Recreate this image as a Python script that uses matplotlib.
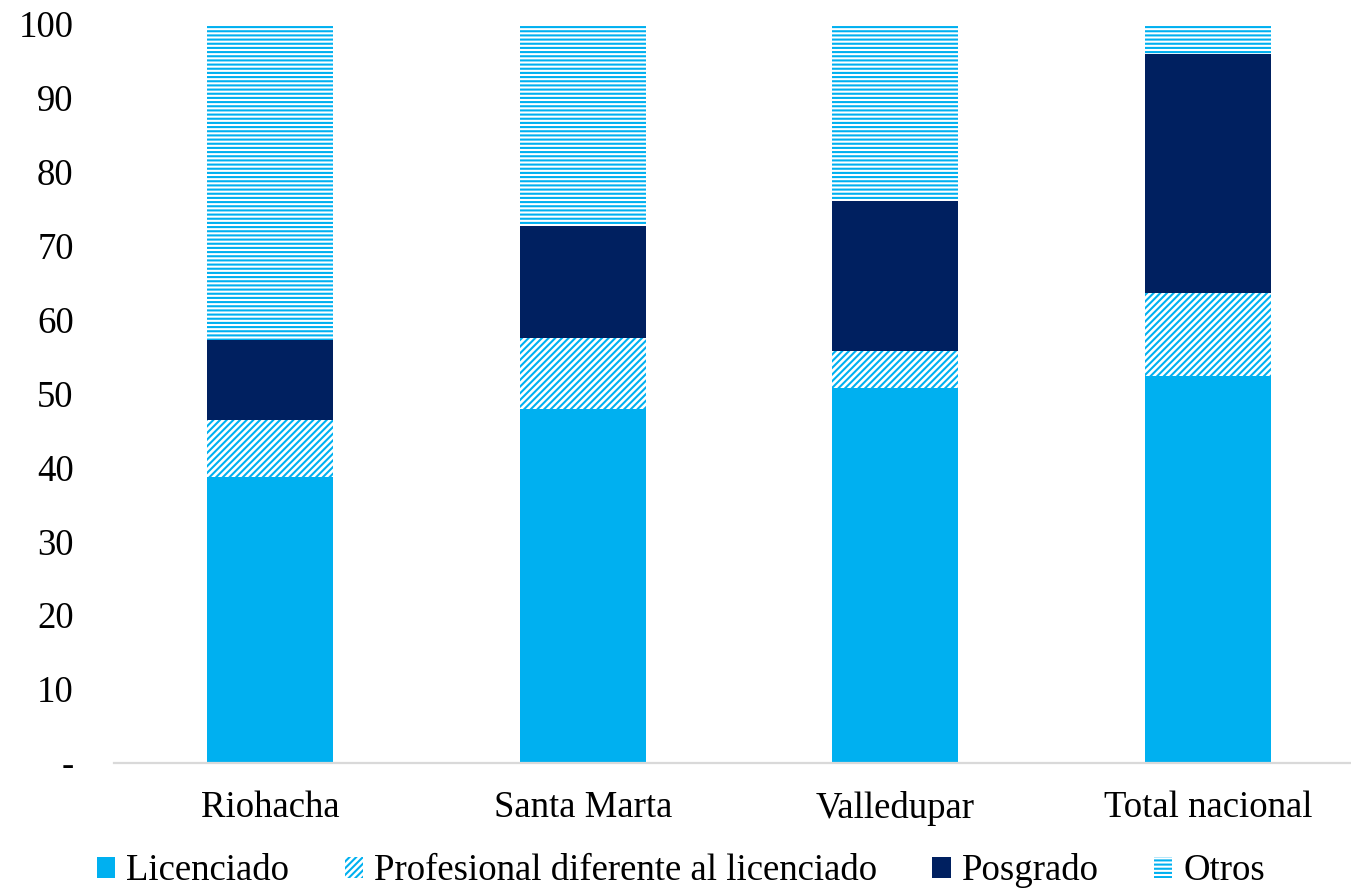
import matplotlib
matplotlib.use("Agg")
import matplotlib.pyplot as plt
import numpy as np

categories = ["Riohacha", "Santa Marta", "Valledupar", "Total nacional"]
licenciado = [38.7, 47.9, 50.7, 52.4]
profesional = [7.7, 9.6, 5.1, 11.2]
posgrado = [10.8, 15.2, 20.2, 32.3]
otros = [42.8, 27.3, 24.0, 4.1]
yticks = [0, 10, 20, 30, 40, 50, 60, 70, 80, 90, 100]
yticklabels = ["-", "10", "20", "30", "40", "50", "60", "70", "80", "90", "100"]

plt.rcParams['font.family'] = ['Liberation Serif', 'DejaVu Serif']
plt.rcParams['hatch.linewidth'] = 1.5

W, H = 1351, 892
fig = plt.figure(figsize=(W / 100, H / 100), dpi=100)
ax = fig.add_axes([114 / W, 1 - 763 / H, 1 - 114 / W, (763 - 24) / H])

cyan = "#00B0F0"
navy = "#002060"
x = np.arange(len(categories))
bw = 0.403

b0 = np.zeros(len(categories))
ax.bar(x, licenciado, bw, bottom=b0, color=cyan, linewidth=0, label="Licenciado")
b1 = b0 + np.array(licenciado)
ax.bar(x, profesional, bw, bottom=b1, facecolor="white", edgecolor=cyan,
       hatch="/////", linewidth=0, label="Profesional diferente al licenciado")
b2 = b1 + np.array(profesional)
ax.bar(x, posgrado, bw, bottom=b2, color=navy, linewidth=0, label="Posgrado")
b3 = b2 + np.array(posgrado)
ax.bar(x, otros, bw, bottom=b3, facecolor="white", edgecolor=cyan,
       hatch="----", linewidth=0, label="Otros")

ax.set_xlim(-0.5, (W - 114) / 312.5 - 0.5)
ax.set_ylim(0, 100)
ax.set_xticks(x)
ax.set_xticklabels(categories, fontsize=26.5)
ax.set_yticks(yticks)
ax.set_yticklabels(yticklabels, fontsize=26.5)
ax.tick_params(axis='both', length=0)
ax.tick_params(axis='y', pad=29)
ax.tick_params(axis='x', pad=20)
for s in ["top", "right", "left"]:
    ax.spines[s].set_visible(False)
ax.spines["bottom"].set_color("#D9D9D9")
ax.spines["bottom"].set_linewidth(1.6)

leg = fig.legend(loc="center", bbox_to_anchor=(681 / W, 1 - 871 / H), ncol=4,
                 frameon=False, fontsize=26.5, handlelength=0.5, handleheight=0.5,
                 handletextpad=0.3, columnspacing=1.5, borderpad=0, borderaxespad=0)

fig.savefig("out.png", dpi=100)
